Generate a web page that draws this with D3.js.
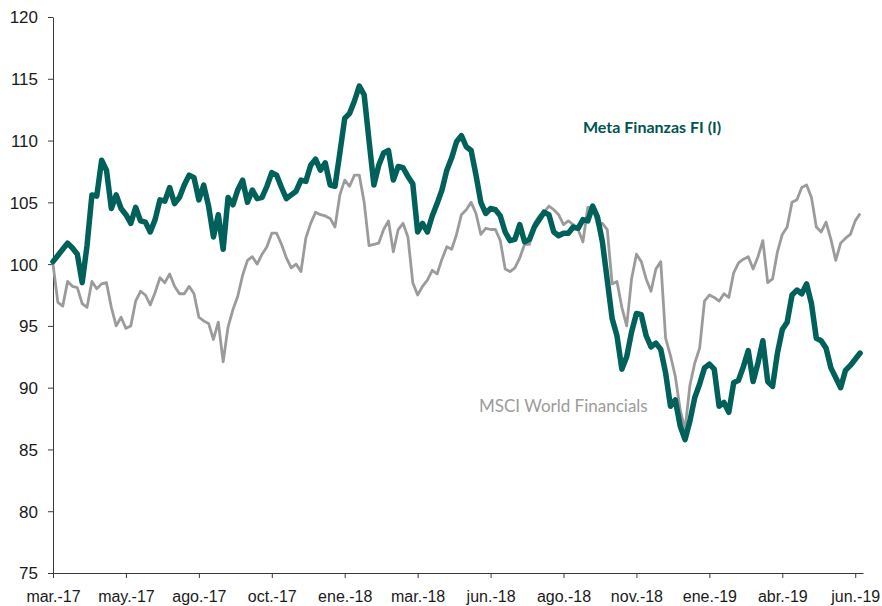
<!DOCTYPE html>
<html>
<head>
<meta charset="utf-8">
<script src="https://cdn.jsdelivr.net/npm/d3@7"></script>
<style>
  body { margin: 0; background: #fff; }
  svg { display: block; font-family: Lato, "Open Sans", sans-serif; }
</style>
</head>
<body>
<svg id="drawing_region"></svg>
<script>
// x labels shown every 15 points
const monthLabels = ["mar.-17", "may.-17", "ago.-17", "oct.-17", "ene.-18", "mar.-18",
                     "jun.-18", "ago.-18", "nov.-18", "ene.-19", "abr.-19", "jun.-19"];
const yTicks = [75, 80, 85, 90, 95, 100, 105, 110, 115, 120];

const fundValues = [
  100.2, 100.7, 101.2, 101.7, 101.3, 100.8, 98.5, 101.5, 105.6, 105.5,
  108.4, 107.6, 104.5, 105.6, 104.5, 104.0, 103.3, 104.6, 103.5, 103.4,
  102.6, 103.6, 105.2, 105.1, 106.2, 104.9, 105.4, 106.4, 107.2, 107.0,
  105.2, 106.4, 104.7, 102.2, 104.0, 101.2, 105.4, 104.8, 106.0, 106.8,
  105.0, 106.0, 105.3, 105.4, 106.3, 107.4, 107.2, 106.2, 105.3, 105.6,
  105.9, 106.8, 106.7, 108.0, 108.5, 107.6, 108.2, 106.4, 106.3, 109.0,
  111.8, 112.2, 113.2, 114.4, 113.7, 110.0, 106.4, 108.0, 109.0, 109.2,
  106.8, 107.9, 107.8, 107.1, 106.5, 102.6, 103.3, 102.6, 103.9, 104.9,
  106.0, 107.6, 108.6, 109.9, 110.4, 109.5, 109.2, 107.2, 105.0, 104.1,
  104.5, 104.4, 103.9, 102.6, 101.9, 102.0, 103.2, 101.8, 102.0, 103.0,
  103.6, 104.2, 104.0, 102.6, 102.3, 102.5, 102.5, 103.0, 102.9, 103.6,
  103.5, 104.7, 103.8, 101.8, 98.7, 95.6, 94.2, 91.5, 92.5, 94.5,
  96.0, 95.9, 94.2, 93.3, 93.6, 93.1, 91.2, 88.5, 89.0, 86.9,
  85.8, 87.3, 89.2, 90.3, 91.6, 91.9, 91.5, 88.5, 88.8, 88.0,
  90.4, 90.6, 91.7, 93.0, 90.5, 92.0, 93.8, 90.5, 90.1, 92.8,
  94.7, 95.3, 97.5, 97.9, 97.6, 98.4, 96.8, 94.0, 93.8, 93.2,
  91.6, 90.8, 90.0, 91.4, 91.8, 92.3, 92.8
];

const msciValues = [
  100.0, 96.9, 96.6, 98.6, 98.2, 98.1, 96.8, 96.5, 98.6, 98.0,
  98.4, 98.5, 96.5, 95.0, 95.7, 94.8, 95.0, 97.0, 97.8, 97.5,
  96.7, 97.7, 98.9, 98.5, 99.2, 98.2, 97.6, 97.6, 98.2, 97.6,
  95.7, 95.4, 95.2, 93.9, 95.3, 92.1, 94.9, 96.3, 97.4, 99.1,
  100.3, 100.6, 100.0, 100.8, 101.4, 102.5, 102.5, 101.6, 100.5, 99.7,
  100.0, 99.4, 102.1, 103.3, 104.2, 104.0, 103.9, 103.7, 103.0, 105.6,
  106.8, 106.3, 107.2, 107.2, 105.0, 101.5, 101.6, 101.7, 102.8, 103.5,
  101.0, 102.8, 103.3, 102.2, 98.5, 97.5, 98.2, 98.7, 99.5, 99.2,
  100.4, 101.4, 101.2, 102.4, 104.0, 104.4, 105.0, 104.1, 102.4, 102.9,
  102.8, 102.8, 101.9, 99.6, 99.4, 99.7, 100.5, 101.6, 101.6, 103.3,
  103.9, 104.2, 104.7, 104.4, 104.0, 103.2, 103.5, 103.2, 102.8, 101.8,
  104.6, 104.6, 103.2, 103.3, 102.8, 98.4, 98.6, 96.5, 95.0, 98.8,
  100.8, 100.2, 98.8, 97.8, 99.6, 100.2, 94.0, 92.6, 90.9, 88.2,
  86.6, 90.2, 92.0, 93.2, 97.0, 97.5, 97.3, 97.0, 97.6, 97.3,
  99.3, 100.1, 100.4, 100.6, 99.6, 100.6, 101.9, 98.5, 98.8, 101.0,
  102.4, 103.0, 105.0, 105.2, 106.2, 106.4, 105.4, 103.0, 102.6, 103.4,
  102.0, 100.3, 101.7, 102.1, 102.4, 103.5, 104.1
];

const config = {
    width: 882,
    height: 606,
    left: 53,
    right: 863,
    top: 17,
    bottom: 573
};

const svg = d3.select('#drawing_region')
    .attr('width', config.width)
    .attr('height', config.height);

const xscale = d3.scaleLinear()
    .domain([0, 166.6])
    .range([config.left, config.right]);

const yscale = d3.scaleLinear()
    .domain([75, 120])
    .range([config.bottom, config.top]);

// axes
const xaxis = d3.axisBottom(xscale)
    .tickValues(monthLabels.map((d, i) => i * 15))
    .tickFormat((d, i) => monthLabels[i])
    .tickSize(5)
    .tickSizeOuter(0);

const yaxis = d3.axisLeft(yscale)
    .tickValues(yTicks)
    .tickSize(5)
    .tickSizeOuter(0);

const xaxis_group = svg.append('g')
    .attr('transform', `translate(0, ${config.bottom})`)
    .call(xaxis);

const yaxis_group = svg.append('g')
    .attr('transform', `translate(${config.left}, 0)`)
    .call(yaxis);

[xaxis_group, yaxis_group].forEach(g => {
    g.selectAll('path, line').attr('stroke', '#3a3a3a');
    g.selectAll('text').attr('fill', '#1a1a1a');
});
xaxis_group.selectAll('text')
    .style('font-size', '16px')
    .attr('dy', '1.3em');
yaxis_group.selectAll('text')
    .style('font-size', '17px')
    .attr('x', -15)
    .attr('dy', '0.35em');

// lines
const line = d3.line()
    .x((d, i) => xscale(i))
    .y(d => yscale(d));

svg.append('path')
    .datum(msciValues)
    .attr('fill', 'none')
    .attr('stroke', '#9b9b9b')
    .attr('stroke-width', 2.8)
    .attr('stroke-linejoin', 'round')
    .attr('d', line);

svg.append('path')
    .datum(fundValues)
    .attr('fill', 'none')
    .attr('stroke', '#00605a')
    .attr('stroke-width', 5.5)
    .attr('stroke-linejoin', 'round')
    .attr('stroke-linecap', 'round')
    .attr('d', line);

// series labels
svg.append('text')
    .attr('x', 583)
    .attr('y', 133)
    .attr('fill', '#00544f')
    .style('font-size', '16px')
    .style('font-weight', 'bold')
    .text('Meta Finanzas FI (I)');

svg.append('text')
    .attr('x', 479)
    .attr('y', 412)
    .attr('fill', '#9b9b9b')
    .style('font-size', '17px')
    .text('MSCI World Financials');
</script>
</body>
</html>
